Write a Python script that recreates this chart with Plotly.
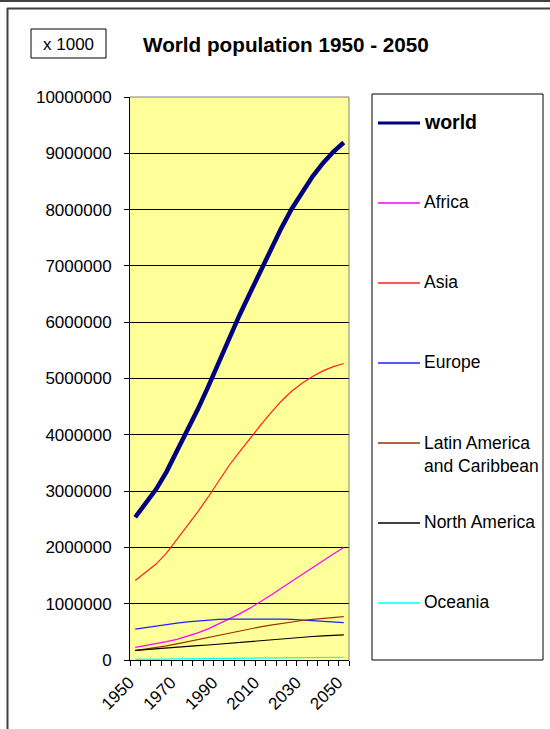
import plotly.graph_objects as go

# ---------------- data (thousands) ----------------
years = [1950, 1955, 1960, 1965, 1970, 1975, 1980, 1985, 1990, 1995, 2000,
         2005, 2010, 2015, 2020, 2025, 2030, 2035, 2040, 2045, 2050]
label_years = [1950, 1970, 1990, 2010, 2030, 2050]

world = [2535093, 2770753, 3031931, 3342771, 3698676, 4076080, 4451470, 4855264,
         5294879, 5719045, 6124123, 6514751, 6906558, 7295135, 7667090, 8010509,
         8317707, 8587050, 8823546, 9025982, 9191287]
africa = [224068, 253537, 285834, 325038, 366811, 419126, 482232, 553237, 638729,
          726285, 819462, 921073, 1032013, 1149968, 1276369, 1400184, 1523472,
          1645090, 1764867, 1881838, 1997935]
asia = [1410649, 1553722, 1704172, 1899424, 2138669, 2392947, 2632335, 2895977,
        3187301, 3454846, 3698296, 3936536, 4166741, 4389056, 4596570, 4772523,
        4916568, 5036210, 5135071, 5210016, 5265895]
europe = [547403, 575660, 604401, 634045, 656175, 676267, 692868, 706532, 721582,
          727405, 727986, 730758, 732759, 731890, 727673, 719933, 709794, 698052,
          685101, 675000, 664183]
latin_america = [167307, 191026, 218300, 250400, 285695, 323800, 362800, 403800,
                 443000, 481800, 520229, 556512, 588649, 621000, 650000, 677000,
                 702000, 722000, 740000, 755000, 769000]
north_america = [171615, 186882, 204150, 219147, 231284, 242360, 254529, 266576,
                 282678, 299947, 315915, 332245, 348139, 363919, 379166, 393300,
                 406000, 417500, 427000, 436000, 445000]
oceania = [12807, 14249, 15888, 17601, 19663, 21611, 22977, 24875, 26985, 29196,
           31223, 33400, 35430, 37600, 39600, 41500, 43200, 44800, 46200, 47500, 48700]

series_names = ["world", "Africa", "Asia", "Europe",
                "Latin America<br>and Caribbean", "North America", "Oceania"]
series_values = [world, africa, asia, europe, latin_america, north_america, oceania]
series_colors = ["#000080", "#FF00FF", "#FF2020", "#2020FF", "#993300", "#000000", "#00FFFF"]
series_widths = [4.5, 1.2, 1.2, 1.2, 1.2, 1.2, 1.2]
legend_widths = [3, 1.5, 1.5, 1.5, 1.5, 1.5, 1.5]

y_ticks = [i * 1000000 for i in range(11)]

title_text = "World population 1950 - 2050"
unit_text = "x 1000"

FONT = "Liberation Sans, Arial, sans-serif"

# ---------------- geometry helpers ----------------
W, H = 550, 729
L, R, T, B = 130, 349, 97, 660
PW, PH = R - L, B - T


def px(x):
    return (x - L) / PW


def py(y):
    return (B - y) / PH


cats = [str(y) for y in years]

fig = go.Figure()
for name, vals, col, lw in zip(series_names, series_values, series_colors, series_widths):
    fig.add_trace(go.Scatter(x=cats, y=vals, mode="lines", name=name.replace("<br>", " "),
                             line=dict(color=col, width=lw), showlegend=False))

shapes = []
annotations = []

# outer frame
shapes.append(dict(type="line", xref="paper", yref="paper", x0=px(0), x1=px(W),
                   y0=py(1), y1=py(1), line=dict(color="#404040", width=2)))
shapes.append(dict(type="line", xref="paper", yref="paper", x0=px(7), x1=px(W),
                   y0=py(8.5), y1=py(8.5), line=dict(color="#404040", width=2)))
shapes.append(dict(type="line", xref="paper", yref="paper", x0=px(7.5), x1=px(7.5),
                   y0=py(8), y1=py(H), line=dict(color="#404040", width=2)))

# plot-area top/right border (gray)
shapes.append(dict(type="line", xref="paper", yref="paper", x0=0, x1=1, y0=1, y1=1,
                   line=dict(color="#808080", width=1), layer="above"))
shapes.append(dict(type="line", xref="paper", yref="paper", x0=1, x1=1, y0=0, y1=1,
                   line=dict(color="#808080", width=1), layer="above"))

# unit box
shapes.append(dict(type="rect", xref="paper", yref="paper", x0=px(31), x1=px(106),
                   y0=py(29), y1=py(58), line=dict(color="#000000", width=1)))
annotations.append(dict(xref="paper", yref="paper", x=px(68), y=py(44), text=unit_text,
                        showarrow=False, xanchor="center", yanchor="middle",
                        font=dict(family=FONT, size=17, color="#000000")))

# title
annotations.append(dict(xref="paper", yref="paper", x=px(141), y=py(44), text="<b>" + title_text + "</b>",
                        showarrow=False, xanchor="left", yanchor="middle",
                        font=dict(family=FONT, size=20.7, color="#000000")))

# legend box
shapes.append(dict(type="rect", xref="paper", yref="paper", x0=px(372), x1=px(543),
                   y0=py(94), y1=py(660), line=dict(color="#000000", width=1)))
for i, (name, col, lw) in enumerate(zip(series_names, series_colors, legend_widths)):
    yy = 123 + 80 * i
    shapes.append(dict(type="line", xref="paper", yref="paper", x0=px(378), x1=px(420),
                       y0=py(yy), y1=py(yy), line=dict(color=col, width=lw)))
    nlines = name.count("<br>") + 1
    fs = 19.5 if i == 0 else 17.5
    txt = "<b>" + name + "</b>" if i == 0 else name
    annotations.append(dict(xref="paper", yref="paper", x=px(422), y=py(yy - 1 + (nlines - 1) * 12),
                            text=txt, showarrow=False, xanchor="left", yanchor="middle",
                            align="left",
                            font=dict(family=FONT, size=fs, color="#000000")))

fig.update_layout(
    width=W, height=H,
    margin=dict(l=L, r=W - R, t=T, b=H - B, pad=0),
    paper_bgcolor="#FFFFFF",
    plot_bgcolor="#FFFF99",
    showlegend=False,
    shapes=shapes,
    annotations=annotations,
    font=dict(family=FONT, size=17, color="#000000"),
    xaxis=dict(type="category", range=[-0.5, len(years) - 0.5],
               tickmode="array", tickvals=cats,
               ticktext=[str(y) if y in label_years else "" for y in years],
               tickson="boundaries", ticks="outside", ticklen=5, tickcolor="#000000",
               tickangle=-45, showline=True, linecolor="#000000", linewidth=1,
               showgrid=False, zeroline=False,
               ticklabelshift=-6, ticklabelstandoff=5,
               tickfont=dict(family=FONT, size=17, color="#000000")),
    yaxis=dict(range=[0, 10000000], tickmode="array", tickvals=y_ticks,
               ticktext=[str(v) for v in y_ticks],
               ticks="outside", ticklen=5, tickcolor="#000000",
               showline=True, linecolor="#000000", linewidth=1,
               showgrid=True, gridcolor="#000000", gridwidth=1, zeroline=False,
               ticklabelstandoff=9,
               tickfont=dict(family=FONT, size=17, color="#000000")),
)

fig.write_html("out.html")
